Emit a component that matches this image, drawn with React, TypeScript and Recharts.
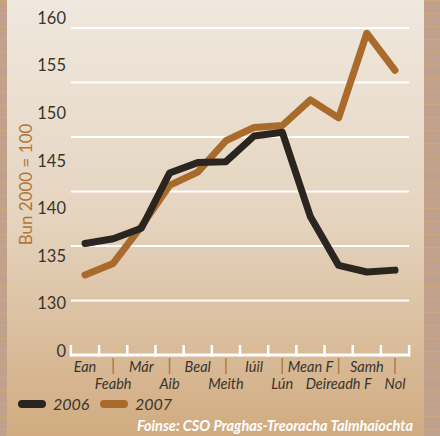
import { CartesianGrid, Line, LineChart, XAxis, YAxis } from "recharts";

const MONTHS = ["Ean", "Feabh", "Már", "Aib", "Beal", "Meith", "Iúil", "Lún", "Mean F", "Deireadh F", "Samh", "Nol"];
const INDEX_2006 = [136.3, 136.8, 137.9, 143.7, 144.8, 144.9, 147.6, 148.0, 139.1, 134.0, 133.3, 133.5];
const INDEX_2007 = [133.0, 134.2, 138.1, 142.4, 143.8, 147.1, 148.5, 148.7, 151.4, 149.5, 158.4, 154.5];
// the axis is broken: the bottom step is labelled 0
const Y_TICKS = [125, 130, 135, 140, 145, 150, 155, 160];
const BREAK_VALUE = 125;

const C2006 = "#2a251e";
const C2007 = "#a96b2b";
const TEXT = "#3a342d";
const FONT = "Lato, 'Open Sans', sans-serif";

const W = 440;
const H = 436;
const PLOT_LEFT = 71;
const PLOT_RIGHT = 409;
const X_PAD = 14;
const HALF_STEP = (PLOT_RIGHT - PLOT_LEFT - 2 * X_PAD) / (MONTHS.length - 1) / 2;

const data = MONTHS.map((month, i) => ({ month, y2006: INDEX_2006[i], y2007: INDEX_2007[i] }));

function MonthTick(props: any) {
  const { x, y, index, payload } = props;
  const axisY = y + 4;
  const lower = index % 2 === 1;
  const last = index === MONTHS.length - 1;
  return (
    <g>
      <line x1={x - HALF_STEP} x2={x + HALF_STEP} y1={axisY} y2={axisY} stroke="#fff" strokeWidth={3} />
      <line x1={x - HALF_STEP} x2={x - HALF_STEP} y1={axisY - 10} y2={axisY + 1.5} stroke="#fff" strokeWidth={2.5} />
      {last && (
        <line x1={x + HALF_STEP} x2={x + HALF_STEP} y1={axisY - 10} y2={axisY + 1.5} stroke="#fff" strokeWidth={2.5} />
      )}
      {lower && <line x1={x} x2={x} y1={axisY + 3} y2={axisY + 19} stroke="#b27b3f" strokeWidth={1.5} />}
      <text
        x={x}
        y={axisY + (lower ? 34 : 17)}
        textAnchor="middle"
        fontStyle="italic"
        fontSize={14.5}
        fill={TEXT}
        fontFamily={FONT}
      >
        {payload.value}
      </text>
    </g>
  );
}

function YTitle(props: any) {
  const vb = props.viewBox;
  const cx = 25;
  const cy = vb ? vb.y + vb.height / 2 : 185;
  return (
    <text
      x={cx}
      y={cy}
      transform={`rotate(-90 ${cx} ${cy})`}
      textAnchor="middle"
      dominantBaseline="central"
      fontSize={17}
      fill="#b0773a"
      fontFamily={FONT}
    >
      Bun 2000 = 100
    </text>
  );
}

// six white rules evenly spaced between the x axis and the top rule
const gridRows = ({ offset }: any) => {
  const base = offset.top + offset.height + 4;
  const top = offset.top + 10;
  const step = (base - top) / 6;
  return [1, 2, 3, 4, 5, 6].map((i) => base - i * step);
};

export default function App() {
  return (
    <div style={{ position: "relative", width: W, height: H, fontFamily: FONT }}>
      <style>{`body{margin:0}`}</style>
      <svg width={W} height={H} style={{ position: "absolute", left: 0, top: 0 }}>
        <defs>
          <pattern id="weave" width="26" height="13" patternUnits="userSpaceOnUse">
            <rect width="26" height="13" fill="#bfa18d" />
            <line x1="0" y1="0.5" x2="26" y2="0.5" stroke="#cfa67a" strokeWidth="1.5" />
            <line x1="0" y1="0" x2="13" y2="13" stroke="#c9a27c" strokeWidth="1" />
          </pattern>
          <linearGradient id="panel" x1="0" y1="0" x2="0" y2="1">
            <stop offset="0" stopColor="#efe8de" />
            <stop offset="0.5" stopColor="#e5d4bf" />
            <stop offset="1" stopColor="#d1ab80" />
          </linearGradient>
        </defs>
        <rect width={W} height={H} fill="url(#weave)" />
        <rect x={7} y={0} width={417} height={H} fill="url(#panel)" />
      </svg>

      <div style={{ position: "absolute", left: 0, top: 0 }}>
        <LineChart width={W} height={H} data={data} margin={{ top: 18, right: W - PLOT_RIGHT, bottom: 40, left: 0 }}>
          <CartesianGrid horizontal vertical={false} stroke="#fff" strokeWidth={2} horizontalCoordinatesGenerator={gridRows} />
          <XAxis
            dataKey="month"
            height={45}
            interval={0}
            padding={{ left: X_PAD, right: X_PAD }}
            axisLine={false}
            tickLine={false}
            tickSize={0}
            tickMargin={0}
            tick={<MonthTick />}
          />
          <YAxis
            width={PLOT_LEFT}
            domain={[BREAK_VALUE, 160]}
            ticks={Y_TICKS}
            allowDataOverflow
            axisLine={false}
            tickLine={false}
            tickSize={0}
            tickMargin={5}
            tick={{ fontSize: 16.5, fill: TEXT, fontFamily: FONT }}
            tickFormatter={(v: number) => (v === BREAK_VALUE ? "0" : String(v))}
            label={<YTitle />}
          />
          <Line
            dataKey="y2007"
            stroke={C2007}
            strokeWidth={7}
            strokeLinecap="round"
            strokeLinejoin="round"
            dot={false}
            isAnimationActive={false}
          />
          <Line
            dataKey="y2006"
            stroke={C2006}
            strokeWidth={7}
            strokeLinecap="round"
            strokeLinejoin="round"
            dot={false}
            isAnimationActive={false}
          />
        </LineChart>
      </div>

      <svg width={W} height={H} style={{ position: "absolute", left: 0, top: 0, pointerEvents: "none" }}>
        <line x1={22} x2={42} y1={404} y2={404} stroke={C2006} strokeWidth={8} strokeLinecap="round" />
        <text x={53} y={410} fontSize={16} fontStyle="italic" fill={TEXT} fontFamily={FONT}>
          2006
        </text>
        <line x1={104} x2={124} y1={404} y2={404} stroke={C2007} strokeWidth={8} strokeLinecap="round" />
        <text x={135} y={410} fontSize={16} fontStyle="italic" fill={TEXT} fontFamily={FONT}>
          2007
        </text>
        <text
          x={413}
          y={431}
          textAnchor="end"
          fontSize={14.5}
          fontWeight="bold"
          fontStyle="italic"
          fill="#fff"
          fontFamily={FONT}
        >
          Foinse: CSO Praghas-Treoracha Talmhaíochta
        </text>
      </svg>
    </div>
  );
}
